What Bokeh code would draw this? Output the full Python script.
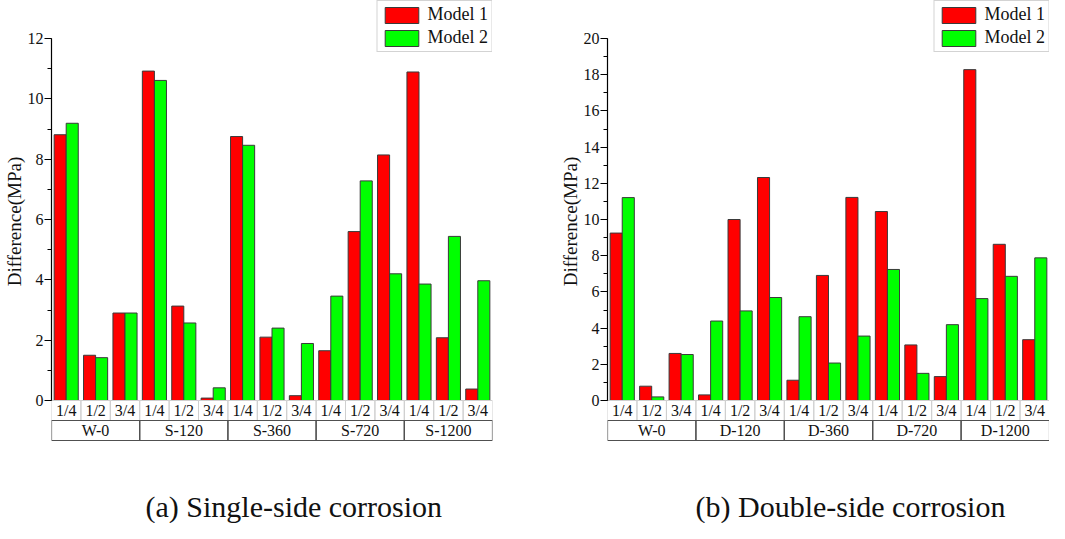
from bokeh.plotting import figure
from bokeh.models import (ColumnDataSource, FactorRange, Range1d, SingleIntervalTicker,
                          Legend, LegendItem, Title)
from bokeh.layouts import row
from bokeh.transform import dodge
from bokeh.core.properties import value
from bokeh.embed import file_html
from bokeh.resources import INLINE

SUBS = ["1/4", "1/2", "3/4"]

GROUPS_A = ["W-0", "S-120", "S-360", "S-720", "S-1200"]
M1_A = [8.81, 1.50, 2.90, 10.92, 3.13, 0.08, 8.75, 2.10, 0.16, 1.65, 5.60, 8.14, 10.89, 2.08, 0.38]
M2_A = [9.19, 1.42, 2.90, 10.61, 2.57, 0.42, 8.46, 2.40, 1.89, 3.46, 7.28, 4.20, 3.86, 5.44, 3.97]
YMAX_A = 12
CAPTION_A = "(a) Single-side corrosion"

GROUPS_B = ["W-0", "D-120", "D-360", "D-720", "D-1200"]
M1_B = [9.25, 0.79, 2.60, 0.31, 10.00, 12.32, 1.12, 6.91, 11.22, 10.44, 3.07, 1.32, 18.28, 8.63, 3.36]
M2_B = [11.21, 0.20, 2.54, 4.39, 4.95, 5.69, 4.63, 2.07, 3.56, 7.24, 1.50, 4.19, 5.63, 6.86, 7.88]
YMAX_B = 20
CAPTION_B = "(b) Double-side corrosion"

SERIES = ["Model 1", "Model 2"]
COLORS = ["#ff0000", "#00ff00"]
FONT = "Liberation Serif"

HEIGHT = 523
BELOW_PX = 81      # space under the frame for the caption
FRAME_PX = HEIGHT - BELOW_PX
TOP_PX = 38        # frame top -> ymax
ZERO_PX = 400      # frame top -> 0
ROW_PX = 20        # height of one table row


def make(groups, m1, m2, ymax, caption, width, bl, br, cap_off):
    factors = [(g, s) for g in groups for s in SUBS]
    ppu = (ZERO_PX - TOP_PX) / ymax
    p = figure(width=width, height=HEIGHT,
               x_range=FactorRange(*factors, factor_padding=0, group_padding=0,
                                   subgroup_padding=0, range_padding=0),
               y_range=Range1d(-(FRAME_PX - ZERO_PX) / ppu, ymax + TOP_PX / ppu),
               x_axis_location=None, toolbar_location=None, output_backend="svg",
               min_border_left=bl, min_border_right=br, min_border_top=0,
               min_border_bottom=BELOW_PX, outline_line_color=None)
    p.grid.visible = False

    src = ColumnDataSource(data=dict(x=factors, m1=m1, m2=m2,
                                     sub=[f[1] for f in factors]))
    r1 = p.vbar(x=dodge("x", -0.205, range=p.x_range), top="m1", width=0.41, source=src,
                fill_color=COLORS[0], line_color="#3a3a3a", line_width=1)
    r2 = p.vbar(x=dodge("x", 0.205, range=p.x_range), top="m2", width=0.41, source=src,
                fill_color=COLORS[1], line_color="#3a3a3a", line_width=1)

    # category table below the bars
    h = ROW_PX / ppu
    p.rect(x="x", y=-h / 2, width=1, height=h, source=src, fill_color=None,
           line_color="#cfcfcf", line_width=1)
    p.text(x="x", y=-h / 2, text="sub", source=src, text_align="center",
           text_baseline="middle", text_font=value(FONT), text_font_size="16px",
           text_color="#111111")
    gsrc = ColumnDataSource(data=dict(g=groups))
    p.rect(x="g", y=-1.5 * h, width=3, height=h, source=gsrc, fill_color=None,
           line_color="#505050", line_width=1.2)
    p.text(x="g", y=-1.5 * h, text="g", source=gsrc, text_align="center",
           text_baseline="middle", text_font=value(FONT), text_font_size="16px",
           text_color="#111111")

    ax = p.yaxis[0]
    ax.ticker = SingleIntervalTicker(interval=2, num_minor_ticks=2)
    ax.bounds = (0, ymax)
    ax.axis_line_color = "black"
    ax.axis_line_width = 1.2
    ax.major_tick_in = 0
    ax.major_tick_out = 7
    ax.minor_tick_in = 0
    ax.minor_tick_out = 4
    ax.major_tick_line_color = "black"
    ax.minor_tick_line_color = "black"
    ax.major_label_standoff = 1
    ax.major_label_text_font = FONT
    ax.major_label_text_font_size = "16px"
    ax.major_label_text_color = "#111111"
    ax.axis_label = "Difference(MPa)"
    ax.axis_label_text_font = FONT
    ax.axis_label_text_font_size = "19px"
    ax.axis_label_text_font_style = "normal"
    ax.axis_label_text_color = "#111111"
    ax.axis_label_standoff = 0

    legend = Legend(items=[LegendItem(label=SERIES[0], renderers=[r1]),
                           LegendItem(label=SERIES[1], renderers=[r2])],
                    location="top_right", margin=0, padding=3, spacing=2,
                    glyph_width=42, glyph_height=20, label_standoff=5,
                    label_text_font=FONT, label_text_font_size="18px",
                    label_text_color="#111111",
                    border_line_color="#a8a8a8", border_line_width=1.5,
                    background_fill_color="white", background_fill_alpha=1)
    p.add_layout(legend)

    # spacer between the table and the caption, then the caption itself
    p.add_layout(Title(text=" ", text_font_size="10px", standoff=32), "below")
    p.add_layout(Title(text=caption, align="left", offset=cap_off, standoff=0,
                       vertical_align="bottom", text_font=FONT, text_font_size="30px",
                       text_font_style="normal", text_color="#111111"), "below")
    return p


pa = make(GROUPS_A, M1_A, M2_A, YMAX_A, CAPTION_A, 540, 46, 48, 94)
pb = make(GROUPS_B, M1_B, M2_B, YMAX_B, CAPTION_B, 509, 67, 0, 88)
layout = row(pa, pb)

open("out.html", "w").write(file_html(layout, INLINE))
